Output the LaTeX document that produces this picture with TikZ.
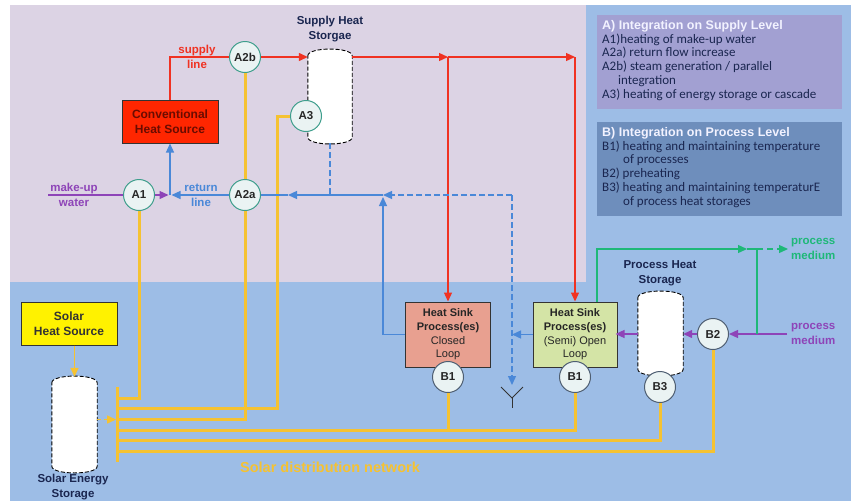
\documentclass[tikz,border=0pt]{standalone}
\usepackage{fontspec}
\setmainfont{Liberation Sans}
\newfontfamily\calfont{Carlito}
\usetikzlibrary{arrows.meta,calc}
\definecolor{lav}{HTML}{DCD3E4}
\definecolor{bgblue}{HTML}{9DBDE6}
\definecolor{panA}{HTML}{A2A0D2}
\definecolor{panB}{HTML}{6E8EBC}
\definecolor{navy}{HTML}{1A2650}
\definecolor{titlec}{HTML}{F2F2FF}
\definecolor{redc}{HTML}{F03222}
\definecolor{bluec}{HTML}{4A88D8}
\definecolor{purpc}{HTML}{8E44B8}
\definecolor{greenc}{HTML}{1EB878}
\definecolor{yelc}{HTML}{F5C232}
\definecolor{circfill}{HTML}{EAF3F3}
\definecolor{tealc}{HTML}{3E9E8C}
\definecolor{grayc}{HTML}{4E5E72}
\definecolor{convfill}{HTML}{FF2600}
\definecolor{convtext}{HTML}{6A0C00}
\definecolor{closedfill}{HTML}{E8A090}
\definecolor{openfill}{HTML}{D4E4A6}
\newcommand\tankout[1]{%
  \draw[tankline] ([yshift=-6pt]#1.north west) .. controls ([yshift=3pt]#1.north west) and ([yshift=3pt]#1.north east) .. ([yshift=-6pt]#1.north east)
    -- ([yshift=6pt]#1.south east) .. controls ([yshift=-3pt]#1.south east) and ([yshift=-3pt]#1.south west) .. ([yshift=6pt]#1.south west) -- cycle;}
\begin{document}
\begin{tikzpicture}[x=1pt,y=-1pt,
  arr/.style={-{Triangle[length=9pt,width=8pt]}},
  redl/.style={draw=redc,line width=1.3pt,color=redc},
  bluel/.style={draw=bluec,line width=1.3pt,color=bluec},
  blued/.style={bluel,dash pattern=on 6pt off 3pt},
  purpl/.style={draw=purpc,line width=1.3pt,color=purpc},
  greenl/.style={draw=greenc,line width=1.3pt,color=greenc},
  yel/.style={draw=yelc,line width=3pt,color=yelc},
  tankline/.style={draw=black,fill=white,line width=0.9pt,dash pattern=on 4pt off 2pt},
  tank/.style={rectangle,draw=none,inner sep=0pt},
  circA/.style={circle,draw=tealc,fill=circfill,line width=1pt,minimum size=31pt,inner sep=0pt,
     font=\bfseries\fontsize{11.5}{13}\selectfont,text=black!85},
  circB/.style={circA,draw=grayc},
  boxn/.style={rectangle,draw=black!80,line width=1pt,inner sep=0pt,align=center},
  lbl/.style={align=center,font=\bfseries\fontsize{11.5}{15}\selectfont,inner sep=0pt},
  sinkt/.style={align=center,font=\fontsize{11}{13.7}\selectfont,text=black!85},
  paneltext/.style={align=left,inner sep=0pt,anchor=north west,text=navy,
     font=\calfont\fontsize{13}{13.8}\selectfont},
  drainl/.style={draw=black!80,line width=0.8pt}
]
\useasboundingbox (0,0) rectangle (851,501);
\fill[white] (0,0) rectangle (851,501);
\fill[bgblue] (10,5) rectangle (851,501);
\fill[lav] (10,5) rectangle (586,282);
% panels
\fill[panA] (597,15) rectangle (842,109);
\fill[panB] (597,122) rectangle (842,216);
\node[paneltext] (ta) at (602,20) {{\color{titlec}\bfseries\rmfamily\fontsize{12.5}{13.8}\selectfont A) Integration on Supply Level}\\
A1)heating of make-up water\\
A2a) return flow increase\\
A2b) steam generation / parallel\\
\hspace*{16pt}integration\\
A3) heating of energy storage or cascade};
\node[paneltext] (tb) at (602,127) {{\color{titlec}\bfseries\rmfamily\fontsize{12.5}{13.8}\selectfont B) Integration on Process Level}\\
B1) heating and maintaining temperature\\
\hspace*{21pt}of processes\\
B2) preheating\\
B3) heating and maintaining temperaturE\\
\hspace*{21pt}of process heat storages};
% tanks
\node[tank,minimum width=44pt,minimum height=93pt] (sup) at (330,96.5) {};
\node[tank,minimum width=45pt,minimum height=83pt] (ptank) at (660.5,333.5) {};
\node[tank,minimum width=45pt,minimum height=95pt] (stank) at (74.5,424.5) {};
\tankout{sup}
\tankout{ptank}
\tankout{stank}
\node[lbl,text=navy] (supl) at (330,29) {Supply Heat\\Storgae};
\node[lbl,text=navy] (ptl) at (660,273) {Process Heat\\Storage};
\node[lbl,text=navy] (stl) at (73,487) {Solar Energy\\Storage};
% boxes
\node[boxn,fill=convfill,minimum width=96pt,minimum height=43pt,text=convtext,
  font=\bfseries\fontsize{12}{15}\selectfont] (conv) at (170,121.5) {Conventional\\Heat Source};
\node[boxn,fill=yellow,minimum width=96pt,minimum height=43pt,text=black!80,
  font=\bfseries\fontsize{12}{15}\selectfont] (solar) at (69,323.5) {Solar\\Heat Source};
\node[boxn,fill=closedfill,minimum width=85pt,minimum height=65pt] (closed) at (448,334.5) {};
\node[boxn,fill=openfill,minimum width=84pt,minimum height=65pt] (open) at (575,334.5) {};
\node[sinkt] (closedt) at (closed) {\bfseries Heat Sink\\\bfseries Process(es)\\Closed\\Loop};
\node[sinkt] (opent) at (open) {\bfseries Heat Sink\\\bfseries Process(es)\\(Semi) Open\\Loop};
% coordinates
\coordinate (r1) at (448,57);
\coordinate (r2) at (575,57);
\coordinate (j1) at (383,195);
\coordinate (m1) at (288,195);
\coordinate (dr) at (512,195);
\coordinate (c1) at (170,195);
\coordinate (mw) at (48,195);
\coordinate (drain) at (512,398);
\coordinate (dtip) at (512,385);
\coordinate (pm) at (787,334);
\coordinate (gs) at (597,302);
\coordinate (g0) at (747,249);
\coordinate (g1) at (757,249);
\coordinate (gout) at (788,249);
\coordinate (bt) at (117.5,387);
\coordinate (bb) at (117.5,462);
\coordinate (yb1) at (117.5,398.5);
\coordinate (ya3) at (277.5,408.5);
\coordinate (yb2) at (117.5,408.5);
\coordinate (yb3) at (117.5,419.5);
\coordinate (yb4) at (117.5,430.5);
\coordinate (yb5) at (117.5,440.5);
\coordinate (yb6) at (117.5,451.5);
% yellow network
\draw[yel] (245.5,72) -- (245.5,180);
\draw[yel] (139.5,210) |- (yb1);
\draw[yel] (291,116.5) -| (ya3) -- (yb2);
\draw[yel] (245.5,210) |- (yb3);
\draw[yel] (448.5,392) -- (448.5,430.5);
\draw[yel] (575.5,392) |- (yb4);
\draw[yel] (660.5,402) |- (yb5);
\draw[yel] (713.5,349) |- (yb6);
\draw[yel] (bt) -- (bb);
% circles
\node[circA] (A2b) at (245,57) {A2b};
\node[circA] (A2a) at (245,195) {A2a};
\node[circA] (A1) at (139,195) {A1};
\node[circA] (A3) at (306,116) {A3};
\node[circB] (B1a) at (448,377) {B1};
\node[circB] (B1b) at (575,377) {B1};
\node[circB] (B3) at (660,387) {B3};
\node[circB] (B2) at (713,334) {B2};
\draw[yel,line width=1.5pt,arr] (solar.south -| stank.north) -- (stank.north);
\draw[yel,line width=1.5pt,dash pattern=on 4pt off 3pt,arr] (stank.east |- yb3) -- ([xshift=-1.5pt]yb3);
\node[text=yelc,font=\bfseries\fontsize{14.5}{16}\selectfont,inner sep=0pt] (sdn) at (330,467) {Solar distribution network};
% red supply
\draw[redl] (conv.north) |- (A2b.west);
\draw[redl,arr] (A2b.east) -- (sup.west |- A2b);
\draw[redl,arr] (sup.east |- A2b) -- (r1);
\draw[redl,arr] (r1) -- (r2);
\draw[redl,arr] (r1) -- (closed.north);
\draw[redl,arr] (r2) -- (open.north);
\node[lbl,text=redc] (supll) at (197,57) {supply\\line};
% blue return
\draw[blued,arr] (dr) -- (j1);
\draw[bluel,arr] (j1) -- (m1);
\draw[bluel] (m1) -- (A2a.east);
\draw[blued] (sup.south) -- (sup.south |- A2a);
\draw[bluel,arr,shorten >=2pt] (closed.west) -| (j1);
\draw[bluel,arr,shorten >=1.5pt] (A2a.west) -- (c1);
\draw[bluel,arr] (c1) -- (conv.south);
\draw[blued,arr] (dr) -- (dtip);
\draw[bluel,arr] (open.west) -- (open.west -| dr);
\node[lbl,text=bluec] (retl) at (201,195) {return\\line};
\draw[drainl] ([shift={(-11,-11)}]drain) -- (drain) -- ([shift={(11,-11)}]drain);
\draw[drainl] (drain) -- ++(0,10);
% purple
\draw[purpl] (mw) -- (A1.west);
\draw[purpl,arr,shorten >=1.5pt] (A1.east) -- (c1);
\node[lbl,text=purpc] (mwl) at (74,195) {make-up\\water};
\draw[purpl,arr] (pm) -- (B2.east);
\draw[purpl,arr] (B2.west) -- (ptank.east |- B2);
\draw[purpl,arr,shorten >=-2pt] (ptank.west |- B2) -- (open.east |- B2);
\node[lbl,text=purpc,anchor=west] (pml) at (791,334) {process\\medium};
% green
\draw[greenl,arr] (gs) |- (g0);
\draw[greenl] (g0) -- (g1);
\draw[greenl] (g1) -- (g1 |- B2);
\draw[greenl,dash pattern=on 6pt off 4pt,arr] (g1) -- (gout);
\node[lbl,text=greenc,anchor=west] (pgl) at (791,249) {process\\medium};
\end{tikzpicture}
\end{document}
